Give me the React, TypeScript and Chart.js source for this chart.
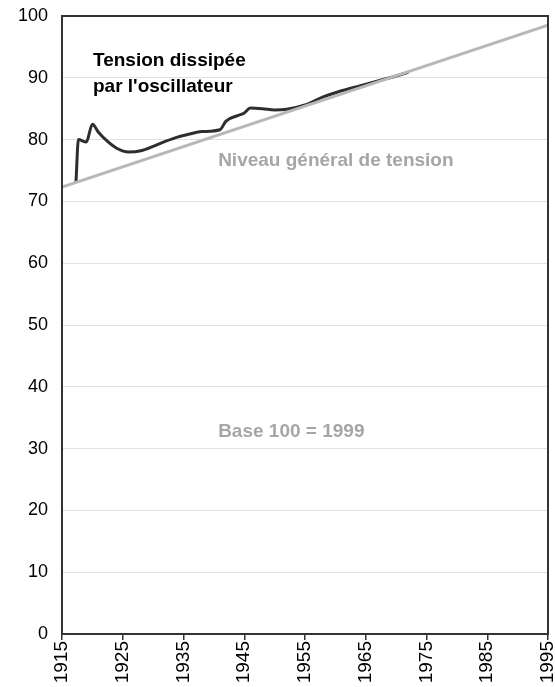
import React, { useEffect, useRef } from "react";
import { Chart, registerables } from "chart.js";

Chart.register(...registerables);

// Black curve: tension dissipated by the oscillator
const oscYears = [1917.3, 1917.7, 1919, 1920, 1921, 1922.5, 1924, 1926, 1928, 1930, 1932, 1934, 1936, 1938, 1941, 1942, 1944, 1945, 1946, 1948, 1950, 1952, 1955, 1958, 1961, 1964, 1967, 1970, 1972];
const oscValues = [73.1, 80.0, 79.6, 82.5, 81.2, 79.7, 78.6, 78.0, 78.2, 78.9, 79.7, 80.4, 80.9, 81.3, 81.6, 83.0, 83.9, 84.3, 85.1, 85.0, 84.8, 84.9, 85.6, 86.9, 87.9, 88.7, 89.5, 90.3, 90.9];

// Gray straight line: general level of tension
const levelYears = [1915, 1995];
const levelValues = [72.3, 98.5];

const xTicks = [1915, 1925, 1935, 1945, 1955, 1965, 1975, 1985, 1995];
const yTicks = [0, 10, 20, 30, 40, 50, 60, 70, 80, 90, 100];

const labels = [
  { text: "Tension dissipée", x: 1920.1, y: 92.7, color: "#000000" },
  { text: "par l'oscillateur", x: 1920.1, y: 88.6, color: "#000000" },
  { text: "Niveau général de tension", x: 1940.7, y: 76.5, color: "#a6a6a6" },
  { text: "Base 100 = 1999", x: 1940.7, y: 32.7, color: "#a6a6a6" },
];

const FONT = "'Liberation Sans', Arial, sans-serif";

export default function App() {
  const ref = useRef<HTMLCanvasElement | null>(null);

  useEffect(() => {
    if (!ref.current) return;
    const textPlugin = {
      id: "texts",
      afterDraw(chart: any) {
        const { ctx, chartArea, scales } = chart;
        ctx.save();
        ctx.strokeStyle = "#333333";
        ctx.lineWidth = 2;
        ctx.strokeRect(chartArea.left, chartArea.top, chartArea.right - chartArea.left, chartArea.bottom - chartArea.top);
        ctx.font = `bold 19px ${FONT}`;
        ctx.textAlign = "left";
        ctx.textBaseline = "middle";
        for (const l of labels) {
          ctx.fillStyle = l.color;
          ctx.fillText(l.text, scales.x.getPixelForValue(l.x), scales.y.getPixelForValue(l.y));
        }
        ctx.restore();
      },
    };

    const chart = new Chart(ref.current, {
      type: "line",
      data: {
        datasets: [
          {
            label: "Niveau général de tension",
            data: levelYears.map((x, i) => ({ x, y: levelValues[i] })),
            borderColor: "#b8b8b8",
            borderWidth: 3,
            pointRadius: 0,
            fill: false,
          },
          {
            label: "Tension dissipée",
            data: oscYears.map((x, i) => ({ x, y: oscValues[i] })),
            borderColor: "#2e2e2e",
            borderWidth: 3,
            pointRadius: 0,
            cubicInterpolationMode: "monotone",
            fill: false,
          },
        ],
      },
      options: {
        animation: false,
        responsive: true,
        maintainAspectRatio: false,
        layout: { padding: { left: 0, right: 7, top: 16, bottom: 0 } },
        plugins: { legend: { display: false }, tooltip: { enabled: false } },
        scales: {
          x: {
            type: "linear",
            min: 1915,
            max: 1995,
            afterBuildTicks: (s: any) => {
              s.ticks = xTicks.map((v) => ({ value: v }));
            },
            afterFit: (s: any) => {
              s.height = 53;
              s.paddingLeft = 0;
              s.paddingRight = 0;
            },
            border: { display: false },
            grid: { display: true, drawOnChartArea: false, drawTicks: true, tickLength: 6, color: "#333333", lineWidth: 1.5 },
            ticks: {
              autoSkip: false,
              maxRotation: 90,
              minRotation: 90,
              padding: 1,
              color: "#000000",
              font: { family: FONT, size: 19 },
              callback: (v: any) => String(v),
            },
          },
          y: {
            min: 0,
            max: 100,
            afterBuildTicks: (s: any) => {
              s.ticks = yTicks.map((v) => ({ value: v }));
            },
            afterFit: (s: any) => {
              s.width = 62;
              s.paddingTop = 0;
              s.paddingBottom = 0;
            },
            border: { display: false },
            grid: { color: "#e0e0e0", lineWidth: 1, drawTicks: false },
            ticks: {
              padding: 14,
              color: "#000000",
              font: { family: FONT, size: 18 },
            },
          },
        },
      },
      plugins: [textPlugin],
    } as any);
    return () => chart.destroy();
  }, []);

  return (
    <div style={{ position: "absolute", left: 0, top: 0, width: 555, height: 687, background: "#ffffff" }}>
      <canvas ref={ref} />
    </div>
  );
}
